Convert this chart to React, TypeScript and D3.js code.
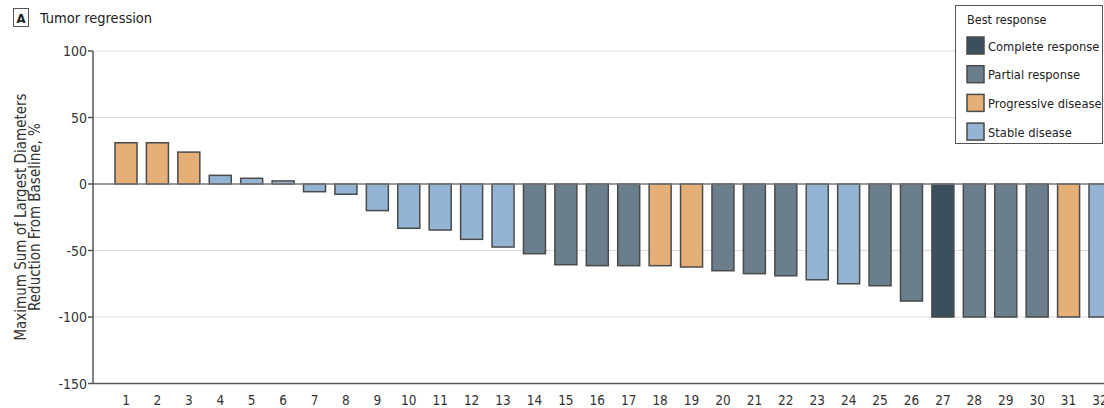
import React from "react";
import * as d3 from "d3";

// Patient order and best response per patient
const patients = Array.from({ length: 32 }, (_, i) => String(i + 1));
const changes = [
  31, 31, 24, 6.5, 4.3, 2.3, -5.8, -7.7, -20, -33.3, -34.6, -41.6, -47.4,
  -52.4, -60.7, -61.4, -61.4, -61.4, -62.4, -65.2, -67.4, -69, -72, -75,
  -76.5, -88, -100, -100, -100, -100, -100, -100,
];
const responses = [
  "PD", "PD", "PD", "SD", "SD", "SD", "SD", "SD", "SD", "SD", "SD", "SD", "SD",
  "PR", "PR", "PR", "PR", "PD", "PD", "PR", "PR", "PR", "SD", "SD", "PR", "PR",
  "CR", "PR", "PR", "PR", "PD", "SD",
];
const legendKeys = ["CR", "PR", "PD", "SD"];
const legendLabels = ["Complete response", "Partial response", "Progressive disease", "Stable disease"];
const legendColors = ["#3c4f5c", "#6a7e8b", "#e5b077", "#94b4d3"];
const yTicks = [100, 50, 0, -50, -100, -150];

const W = 1104;
const H = 408;
const FONT = "'DejaVu Sans Condensed', 'DejaVu Sans', sans-serif";

export default function App() {
  const y = d3.scaleLinear().domain([-150, 100]).range([383.5, 51]);
  const x = d3.scalePoint<string>().domain(patients).range([126, 1100]);
  const color = d3.scaleOrdinal<string, string>().domain(legendKeys).range(legendColors);
  const barW = 22;
  const axisX = 93;

  return (
    <svg
      width={W}
      height={H}
      style={{ position: "absolute", left: 0, top: 0, background: "#fff", fontStretch: "condensed" }}
      fontFamily={FONT}
    >
      {/* panel label */}
      <rect x={13.5} y={8.5} width={15} height={18} fill="#fff" stroke="#555" strokeWidth={1} />
      <text x={21} y={22.5} textAnchor="middle" fontSize={13} fontWeight="bold" fill="#222">A</text>
      <text x={40} y={23} fontSize={14.5} fill="#222">Tumor regression</text>

      {/* gridlines */}
      {yTicks.filter((t) => t !== 0 && t !== -150).map((t) => (
        <line key={t} x1={axisX} x2={W} y1={y(t)} y2={y(t)} stroke="#dcdcdc" strokeWidth={1} />
      ))}

      {/* bars */}
      {patients.map((p, i) => {
        const v = changes[i];
        const y0 = y(0);
        const y1 = y(v);
        return (
          <rect
            key={p}
            x={(x(p) as number) - barW / 2}
            y={Math.min(y0, y1)}
            width={barW}
            height={Math.abs(y1 - y0)}
            fill={color(responses[i])}
            stroke="#4a4a4a"
            strokeWidth={1.5}
          />
        );
      })}

      {/* zero line and axes */}
      <line x1={axisX} x2={W} y1={y(0)} y2={y(0)} stroke="#777" strokeWidth={1.5} />
      <line x1={axisX} x2={W} y1={y(-150)} y2={y(-150)} stroke="#555" strokeWidth={1.5} />
      <line x1={axisX} x2={axisX} y1={y(100)} y2={y(-150)} stroke="#555" strokeWidth={1.5} />
      {yTicks.map((t) => (
        <g key={t}>
          <line x1={axisX - 5} x2={axisX} y1={y(t)} y2={y(t)} stroke="#555" strokeWidth={1.5} />
          <text x={axisX - 6} y={y(t) + 5} textAnchor="end" fontSize={14} fill="#333">
            {t}
          </text>
        </g>
      ))}
      {patients.map((p) => (
        <text key={p} x={x(p) as number} y={405} textAnchor="middle" fontSize={13.5} fill="#333">
          {p}
        </text>
      ))}

      {/* y axis title */}
      <g transform="translate(30,217) rotate(-90)">
        <text x={0} y={-4} textAnchor="middle" fontSize={15} fill="#333">
          Maximum Sum of Largest Diameters
        </text>
        <text x={0} y={10} textAnchor="middle" fontSize={15} fill="#333">
          Reduction From Baseline, %
        </text>
      </g>

      {/* legend */}
      <rect x={955.5} y={5.5} width={147} height={138} fill="#fff" stroke="#555" strokeWidth={1} />
      <text x={967} y={24} fontSize={12.5} fill="#222">Best response</text>
      {legendKeys.map((k, i) => (
        <g key={k} transform={`translate(967,${37 + i * 28.7})`}>
          <rect x={0} y={0} width={17} height={17} fill={color(k)} stroke="#4a4a4a" strokeWidth={1.5} />
          <text x={21} y={13.5} fontSize={12.8} fill="#222">{legendLabels[i]}</text>
        </g>
      ))}
    </svg>
  );
}
